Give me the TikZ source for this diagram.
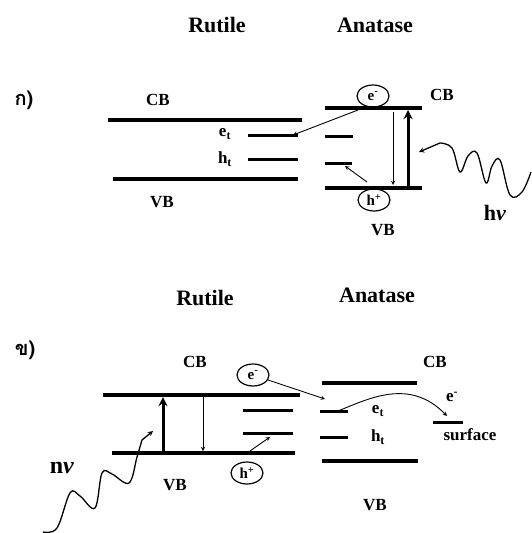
\documentclass[tikz,border=0pt]{standalone}
\usepackage{fontspec}
\setmainfont{Liberation Serif}
\newfontfamily\thaifont[Script=Thai]{Loma}
\usetikzlibrary{shapes.geometric}

\begin{document}
\begin{tikzpicture}[
  x=1pt, y=-1pt,
  band/.style={line width=3.5pt},
  trap/.style={line width=3pt},
  title/.style={font=\bfseries\fontsize{22}{22}\selectfont, inner sep=0pt},
  lbl/.style={font=\bfseries\fontsize{17}{17}\selectfont, inner sep=0pt},
  carrier/.style={ellipse, draw, line width=1.2pt, minimum width=32pt, minimum height=22pt,
    inner sep=0pt, font=\bfseries\fontsize{15}{15}\selectfont},
  hop/.style={->, line width=0.9pt},
  excite/.style={->, line width=3pt},
  photon/.style={->, line width=1.3pt},
  >=stealth
]
  \useasboundingbox (0,0) rectangle (531,533);

  % Panel a
  \node[font=\thaifont\bfseries\fontsize{20}{20}\selectfont] (pa) at (24,100) {ก)};
  \node[title] (ru1) at (217,25) {Rutile};
  \node[title] (an1) at (375,25) {Anatase};

  % Rutile bands (a)
  \draw[band] (108,120) -- (302,120);
  \draw[band] (113,179) -- (298,179);
  \draw[trap] (248,135) -- coordinate[pos=0.9] (et1) (298,135);
  \draw[trap] (248,159) -- (298,159);
  \node[lbl] (cb1) at (158,100) {CB};
  \node[lbl] (vb1) at (162,202) {VB};
  \node[lbl] (et1l) at (225,134) {e\textsubscript{t}};
  \node[lbl] (ht1l) at (225,159) {h\textsubscript{t}};

  % Anatase bands (a)
  \draw[band] (325,108) -- (422,108);
  \draw[band] (325,188) -- (422,188);
  \draw[trap] (325,136) -- (353,136);
  \draw[trap] (325,163) -- (352,163);
  \node[lbl] (cb2) at (442,95) {CB};
  \node[lbl] (vb2) at (383,230) {VB};
  \node[carrier] (e1) at (373,96) {e\textsuperscript{-}};
  \node[carrier] (h1) at (374,200) {h\textsuperscript{+}};

  % Transitions (a)
  \coordinate (up1a) at (408,188);
  \coordinate (up1b) at (408,110);
  \coordinate (dn1a) at (393,112);
  \coordinate (dn1b) at (393,185);
  \coordinate (es1) at (358,110);
  \coordinate (hs1) at (367,182);
  \coordinate (ht1) at (345,166);
  \draw[excite] (up1a) -- (up1b);
  \draw[hop] (dn1a) -- (dn1b);
  \draw[hop] (es1) -- (et1);
  \draw[hop] (hs1) -- (ht1);

  % Light (a)
  \coordinate (pt1) at (419,152);
  \draw[photon] plot[smooth, tension=0.6] coordinates {(531,172) (522,192) (510,195) (500,160)
    (492,166) (486,183) (477,153) (468,156) (460,172) (452,148) (440,143)} -- (pt1);
  \node[font=\bfseries\fontsize{22}{22}\selectfont, inner sep=0pt] (hv1) at (495,213) {h\textit{ν}};

  % Panel b
  \node[font=\thaifont\bfseries\fontsize{20}{20}\selectfont] (pb) at (25,350) {ข)};
  \node[title] (ru2) at (205,298) {Rutile};
  \node[title] (an2) at (377,295) {Anatase};

  % Rutile bands (b)
  \draw[band] (103,395) -- (300,395);
  \draw[band] (112,453) -- (295,453);
  \draw[trap] (243,410) -- (293,410);
  \draw[trap] (243,433) -- (293,433);
  \node[lbl] (cb3) at (195,362) {CB};
  \node[lbl] (vb3) at (175,485) {VB};
  \node[carrier] (e2) at (253,375) {e\textsuperscript{-}};
  \node[carrier] (h2) at (247,473) {h\textsuperscript{+}};

  % Anatase bands (b)
  \draw[band] (322,383) -- (417,383);
  \draw[band] (322,461) -- (418,461);
  \draw[trap] (320,411) -- (348,411);
  \draw[trap] (320,437) -- (348,437);
  \draw[trap] (433,422) -- (463,422);
  \node[lbl] (cb4) at (435,362) {CB};
  \node[lbl] (vb4) at (375,505) {VB};
  \node[lbl] (et2l) at (378,411) {e\textsubscript{t}};
  \node[lbl] (ht2l) at (378,437) {h\textsubscript{t}};
  \node[lbl] (es3) at (452,397) {e\textsuperscript{-}};
  \node[lbl] (surf) at (470,435) {surface};

  % Transitions (b)
  \coordinate (up2a) at (163,453);
  \coordinate (up2b) at (163,397);
  \coordinate (dn2a) at (203,397);
  \coordinate (dn2b) at (203,451);
  \coordinate (et2) at (325,399);
  \coordinate (hs2) at (250,451);
  \coordinate (ht2) at (270,437);
  \coordinate (ts2) at (338,411);
  \coordinate (sf2) at (447,416);
  \draw[excite] (up2a) -- (up2b);
  \draw[hop] (dn2a) -- (dn2b);
  \draw[hop] (e2) -- (et2);
  \draw[hop] (hs2) -- (ht2);
  \draw[hop] (ts2) .. controls (370,398) and (410,378) .. (sf2);

  % Light (b)
  \coordinate (pt2) at (153,431);
  \draw[photon] plot[smooth, tension=0.6] coordinates {(43,532) (57,528) (70,493) (80,496)
    (95,508) (102,473) (112,474) (129,483) (137,457) (142,440)} -- (pt2);
  \node[font=\bfseries\fontsize{24}{24}\selectfont, inner sep=0pt] (hv2) at (62,468) {n\textit{ν}};
\end{tikzpicture}
\end{document}
